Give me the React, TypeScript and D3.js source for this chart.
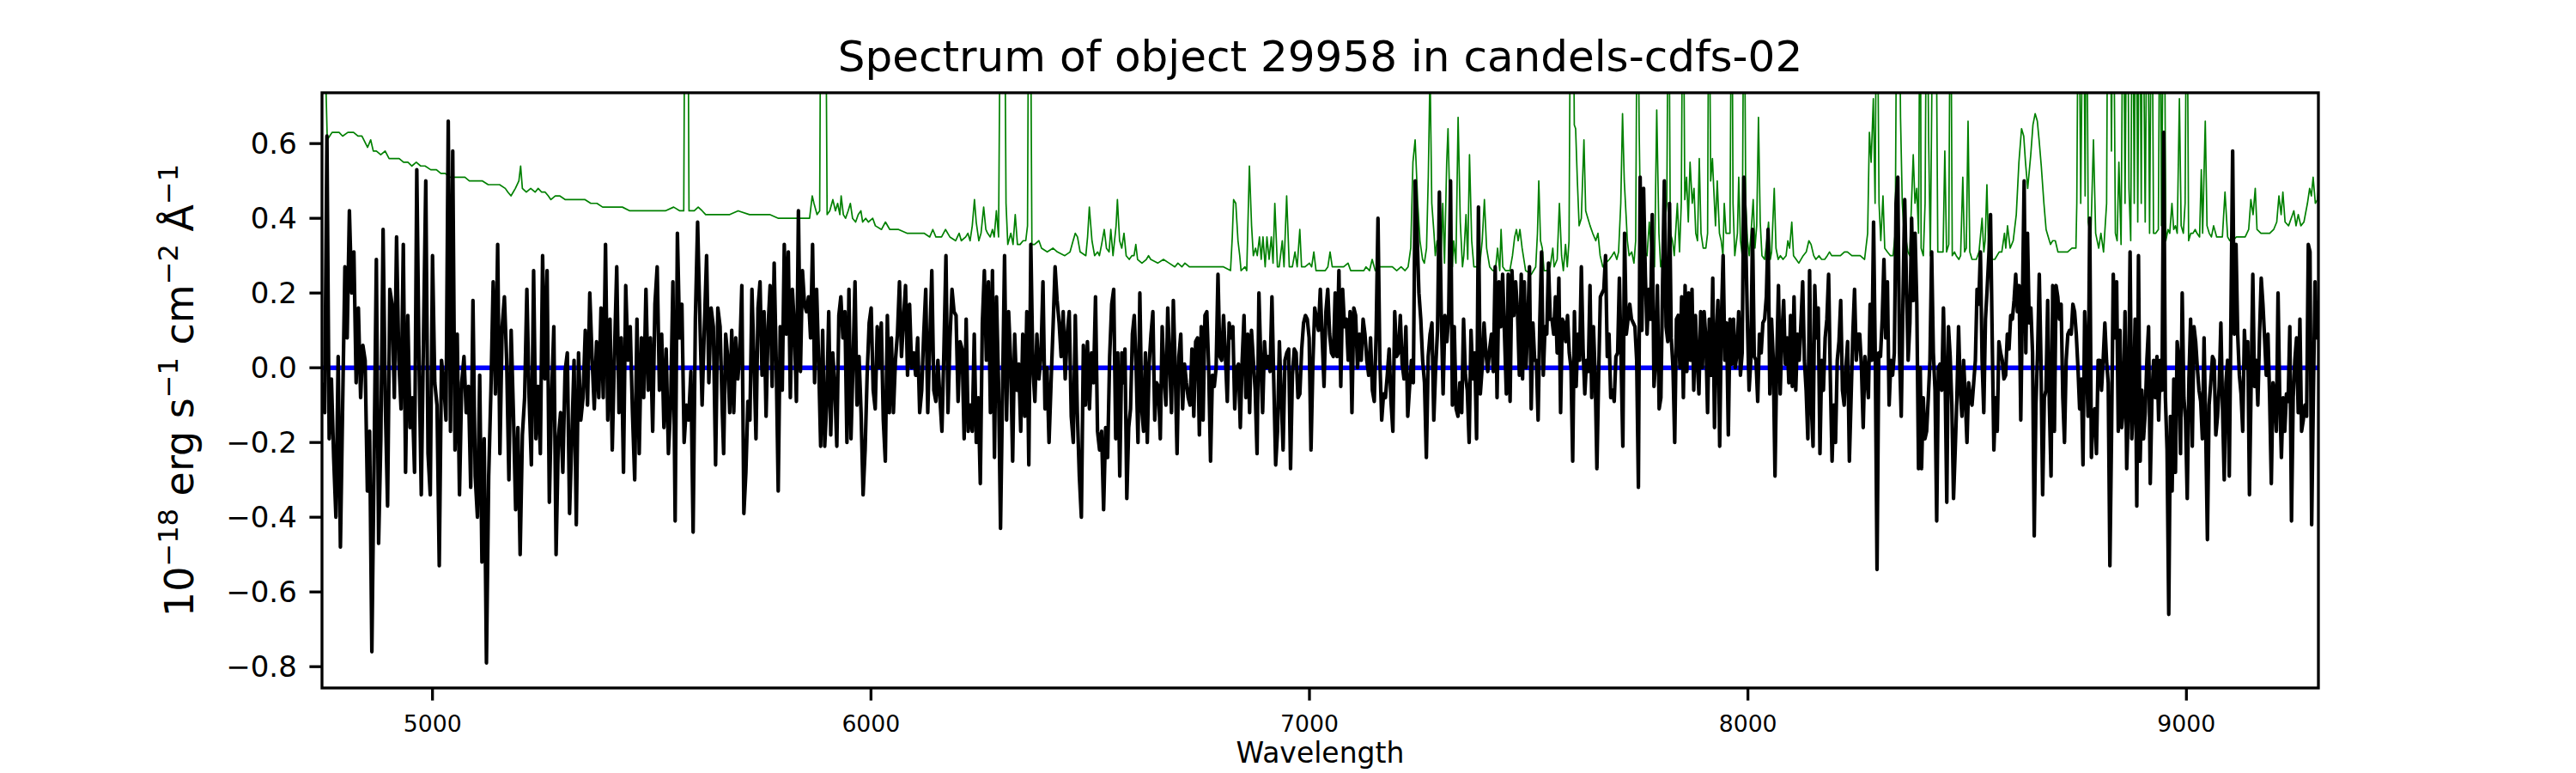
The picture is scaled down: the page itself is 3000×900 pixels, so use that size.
import React from 'react';
import * as d3 from 'd3';

// ---------- axis settings ----------
const xDomain: [number, number] = [4748, 9301];
const yDomain: [number, number] = [-0.857, 0.736];
const xTicks = [5000, 6000, 7000, 8000, 9000];
const yTicks = [-0.8, -0.6, -0.4, -0.2, 0.0, 0.2, 0.4, 0.6];
const titleText = 'Spectrum of object 29958 in candels-cdfs-02';
const xLabelText = 'Wavelength';

// ---------- object flux (black), five wavelength segments, evenly sampled ----------
const fluxRanges: [number, number][] = [
  [4749, 5661], [5664, 6572], [6575, 7483], [7486, 8393], [8396, 9301],
];
const fluxA = [-0.04,-0.12,0.62,-0.19,-0.03,-0.24,-0.40,0.03,-0.48,-0.10,0.27,0.08,0.42,0.20,0.31,-0.04,0.16,-0.08,0.06,0.02,-0.33,-0.17,-0.76,-0.24,0.29,-0.47,-0.19,0.37,-0.10,-0.37,0.21,0.17,-0.08,0.35,0.02,-0.11,0.33,-0.28,0.14,-0.16,-0.08,-0.28,0.53,0.02,-0.34,0.09,0.50,-0.23,-0.34,0.30,-0.04,-0.10,-0.53,0.02,-0.04,-0.14,0.66,-0.17,0.58,-0.22,0.09,-0.34,-0.04,0.03,-0.12,-0.05,-0.32,0.18,-0.29,-0.40,-0.02,-0.52,-0.19,-0.79,-0.29,-0.06,0.23,-0.07,0.33,-0.23,0.11,0.19,0.02,-0.30,0.10,-0.12,-0.38,-0.16,-0.50,-0.18,-0.08,0.21,-0.08,-0.26,0.26,-0.19,-0.05,-0.23,0.30,-0.03,0.26,-0.36,-0.08,0.11,-0.50,-0.19,-0.12,-0.28,-0.01,0.04,-0.39,-0.19,0.02,-0.42,0.04,-0.14,-0.08,0.10,-0.10,0.20,0.03,-0.11,0.07,-0.08,0.16,-0.08,0.33,-0.14,0.13,-0.22,0.04,0.27,-0.12,0.08,-0.28,0.22,0.02,0.11,-0.12,-0.30,0.13,-0.23,0.08,-0.08,0.21,-0.06,0.08,-0.17,0.17,0.27,-0.06,0.09,-0.16,0.05,-0.23,-0.10,0.23,-0.41,0.36,0.08,0.17,-0.20,-0.10,-0.14,-0.01,-0.44,0.13,0.39,0.13,-0.10,0.11,0.30,-0.04,0.16,0.11,-0.26,0.16,0.11,-0.12];
const fluxB = [-0.23,0.09,0.03,-0.12,0.10,-0.12,0.08,-0.03,0.04,0.22,-0.39,-0.28,-0.09,-0.14,0.21,0.02,-0.19,0.16,0.23,-0.02,0.15,-0.13,0.11,0.22,-0.05,0.28,0.02,-0.33,0.11,-0.06,0.33,0.09,0.31,-0.08,0.21,0.11,-0.09,0.42,-0.01,0.26,0.17,0.15,0.19,0.08,0.33,-0.04,0.21,0.02,-0.21,0.10,-0.21,-0.10,0.15,-0.18,0.04,-0.05,-0.21,0.14,0.19,0.08,0.15,-0.20,0.21,-0.19,0.01,0.23,-0.10,0.03,-0.12,-0.34,-0.22,-0.02,0.12,0.16,-0.06,-0.11,0.11,0.00,0.12,-0.14,-0.25,0.14,-0.12,0.08,-0.12,0.02,0.09,0.23,0.03,0.13,0.22,-0.02,0.17,0.00,0.04,-0.02,0.08,-0.12,-0.06,0.09,0.21,-0.12,0.07,0.26,-0.06,-0.09,0.02,-0.08,-0.17,0.05,0.30,-0.12,0.08,0.21,0.15,0.14,-0.09,0.07,0.05,-0.19,0.13,-0.17,-0.10,-0.17,0.09,-0.20,-0.08,-0.31,0.12,0.26,0.02,0.23,-0.12,0.26,-0.24,0.19,-0.04,-0.43,-0.06,0.30,-0.14,0.15,0.02,-0.25,0.09,-0.06,0.01,-0.17,0.09,-0.13,0.15,-0.26,0.33,0.00,-0.09,0.09,-0.03,0.03,0.23,-0.11,0.00,-0.20,-0.04,0.11,0.27,0.18,0.12,0.03,0.15,-0.03,0.09,0.15,-0.13,-0.20,0.14,-0.12,-0.29,-0.40,0.06,-0.10,0.07,-0.11,0.04,-0.04,0.19,-0.17,-0.22,-0.17,-0.38,-0.16,-0.24,0.03,0.17,0.21,-0.19,0.04,-0.29,0.04];
const fluxC = [-0.04,0.05,-0.35,-0.16,-0.11,0.09,0.14,0.00,-0.20,0.20,-0.11,-0.17,0.04,-0.20,0.01,0.09,0.15,-0.14,-0.04,-0.05,-0.19,0.11,-0.02,-0.10,0.16,0.02,-0.12,0.18,0.00,-0.23,0.03,0.09,-0.11,0.01,-0.04,-0.08,-0.10,0.05,-0.13,0.07,0.08,-0.18,0.11,-0.14,0.14,0.15,0.00,-0.25,-0.02,-0.05,0.00,0.25,0.03,0.02,0.14,0.03,-0.09,0.12,0.08,0.11,-0.11,0.00,0.01,-0.16,0.02,0.14,-0.08,0.09,-0.12,0.10,0.02,-0.06,-0.23,0.20,0.02,-0.12,0.07,0.00,0.03,-0.01,0.19,-0.04,-0.26,-0.17,0.07,-0.08,-0.22,0.02,0.04,0.05,-0.27,-0.02,0.05,0.04,-0.08,-0.07,0.05,0.12,0.14,0.13,0.08,-0.22,0.01,0.16,0.13,0.10,0.21,0.08,-0.05,0.15,0.21,0.09,0.04,0.03,0.20,0.03,0.26,-0.05,0.21,0.11,0.13,0.02,0.15,-0.12,0.16,0.14,0.00,0.09,0.02,0.13,0.09,0.02,-0.02,0.08,-0.06,-0.09,0.09,0.40,0.02,-0.14,-0.07,-0.08,-0.02,0.05,-0.09,-0.17,0.15,0.03,0.04,0.14,0.01,-0.03,0.11,-0.13,-0.05,0.02,-0.04,0.50,0.36,0.20,0.13,0.02,-0.04,-0.24,0.03,0.09,0.12,-0.14,0.00,0.10,0.47,0.15,-0.07,0.14,0.07,0.14,0.50,-0.10,0.11,-0.11,-0.13,-0.04,-0.12,0.13,-0.02,-0.06,-0.20,0.10,-0.03,0.04,-0.19,0.43,-0.07,0.00,0.12,0.04,-0.01,0.05,0.09,-0.01,0.27,-0.08,0.23,0.11,0.25,0.09,-0.07,0.25,-0.09,0.26,0.14,0.23,0.15,-0.02,0.25];
const fluxD = [-0.03,0.23,0.00,0.12,0.27,-0.11,0.12,0.02,0.02,-0.14,0.13,0.31,-0.02,0.11,0.09,0.28,0.13,0.13,0.09,0.19,0.04,0.24,-0.12,0.13,0.12,0.07,0.14,0.04,0.00,-0.25,0.15,-0.05,0.09,0.02,0.27,0.05,-0.07,0.02,-0.01,0.22,-0.08,0.11,-0.02,-0.27,-0.02,0.19,0.20,0.21,0.30,0.03,0.09,-0.08,-0.06,-0.09,0.03,0.04,0.24,0.02,-0.21,0.36,0.09,0.13,0.17,0.13,0.12,0.11,0.02,-0.32,0.51,0.10,0.48,0.25,0.09,0.21,0.13,0.41,-0.05,0.02,0.22,-0.11,-0.08,0.23,0.50,0.11,0.07,0.44,0.08,0.00,-0.20,0.13,0.14,0.00,0.19,-0.08,0.22,-0.01,0.20,0.02,0.21,-0.06,0.14,0.02,-0.07,0.15,0.00,0.15,0.08,-0.12,0.13,-0.02,0.24,-0.16,0.08,0.18,-0.21,0.13,0.30,0.02,0.12,-0.18,0.13,0.01,0.13,0.00,0.04,0.15,-0.02,0.04,0.51,0.36,0.13,-0.06,0.02,0.37,0.03,0.02,-0.09,0.09,0.04,0.12,0.13,0.19,0.37,-0.07,0.13,0.02,-0.29,0.02,0.22,-0.07,0.09,0.18,0.01,0.08,-0.04,0.14,-0.05,0.19,-0.06,0.09,0.02,0.12,0.23,0.02,-0.06,-0.19,0.26,-0.10,-0.21,0.22,0.08,0.16,-0.23,0.02,-0.06,0.08,0.13,0.25,-0.03,-0.25,-0.10,-0.20,0.02,0.07,0.18,-0.06,-0.10,0.00,0.07,-0.25,-0.08,0.09,0.21,0.02,0.09,0.09,0.00,-0.16,0.03,-0.02,-0.08,0.17,0.02,0.39,0.02,-0.54,0.04,0.03,0.13,0.29,0.08,0.23,-0.10,0.02,-0.02,0.04,0.44,0.51,0.04,-0.13,0.18,0.45,0.23,0.02,0.12,0.40,0.18,0.36,0.17,-0.27,0.00];
const fluxE = [-0.27,-0.08,-0.19,-0.17,-0.08,0.02,0.31,0.04,-0.06,-0.41,0.00,0.01,-0.06,0.16,-0.03,-0.36,0.11,0.03,-0.10,-0.35,-0.22,-0.08,0.11,-0.06,-0.13,0.02,-0.08,-0.20,-0.04,-0.08,-0.10,-0.04,0.02,0.21,0.17,0.31,0.02,-0.12,0.13,0.21,0.30,0.41,0.08,-0.22,-0.08,-0.17,0.07,0.04,0.02,-0.03,-0.02,0.09,0.05,0.14,0.13,0.18,0.25,0.15,0.22,-0.14,0.18,0.50,0.04,0.36,0.12,0.16,0.04,-0.45,-0.10,0.04,0.25,0.02,-0.34,-0.08,-0.06,0.18,-0.10,-0.29,0.22,-0.17,0.22,0.19,0.13,0.17,-0.08,-0.20,0.02,0.09,0.10,0.09,0.17,0.15,0.09,0.00,-0.11,-0.03,-0.26,0.15,0.03,-0.13,0.40,-0.24,-0.12,-0.11,-0.23,0.02,0.02,-0.06,0.02,0.12,0.02,-0.04,-0.53,-0.17,0.25,0.08,0.23,-0.17,0.10,-0.16,-0.11,0.15,-0.27,-0.10,0.31,-0.19,-0.09,0.13,-0.37,0.30,-0.25,-0.06,-0.19,-0.12,0.02,0.11,-0.31,-0.08,0.02,-0.08,0.03,-0.14,0.02,-0.06,0.63,-0.08,-0.22,-0.66,-0.13,-0.33,-0.03,-0.28,0.07,0.02,-0.23,0.20,-0.08,-0.14,-0.35,-0.03,0.13,-0.21,0.11,0.07,0.00,-0.06,-0.09,-0.19,0.08,-0.17,-0.46,-0.10,-0.04,0.03,0.02,-0.18,-0.13,-0.05,0.12,-0.11,-0.30,-0.04,0.02,-0.29,0.14,0.58,0.09,0.33,0.09,-0.02,-0.07,-0.17,0.10,0.00,0.07,-0.34,-0.04,0.25,-0.05,0.02,-0.10,0.09,0.24,0.17,0.08,-0.02,0.09,-0.08,-0.31,-0.04,-0.07,-0.17,0.20,-0.08,-0.24,-0.08,-0.17,-0.07,-0.09,0.11,-0.41,-0.08,0.02,0.08,-0.12,0.13,-0.17,-0.14,-0.10,-0.13,0.33,0.31,-0.42,-0.08,0.23,0.08,0.18];
const fluxSegments = [fluxA, fluxB, fluxC, fluxD, fluxE];

// ---------- sky / noise spectrum (green): [wavelength, value]; lines above the frame are clipped ----------
const skyA: [number, number][] = [[4749,0.95],[4756,0.80],[4760,0.61],[4771,0.63],[4787,0.63],[4795,0.62],[4807,0.63],[4820,0.63],[4830,0.62],[4839,0.62],[4852,0.59],[4859,0.61],[4865,0.58],[4872,0.58],[4882,0.57],[4892,0.58],[4901,0.56],[4911,0.56],[4924,0.56],[4934,0.55],[4944,0.55],[4953,0.54],[4963,0.55],[4973,0.54],[4983,0.54],[4996,0.53],[5009,0.53],[5019,0.52],[5029,0.52],[5039,0.51],[5048,0.51],[5061,0.51],[5074,0.51],[5084,0.50],[5094,0.50],[5104,0.50],[5114,0.50],[5127,0.49],[5140,0.49],[5153,0.49],[5166,0.48],[5172,0.47],[5179,0.46],[5184,0.47],[5189,0.48],[5197,0.50],[5201,0.54],[5205,0.48],[5214,0.47],[5224,0.48],[5234,0.47],[5241,0.48],[5249,0.47],[5257,0.47],[5264,0.46],[5270,0.45],[5280,0.46],[5290,0.46],[5303,0.45],[5316,0.45],[5332,0.45],[5348,0.45],[5361,0.44],[5375,0.44],[5388,0.43],[5401,0.43],[5417,0.43],[5433,0.43],[5450,0.42],[5466,0.42],[5482,0.42],[5499,0.42],[5515,0.42],[5531,0.42],[5550,0.43],[5564,0.42],[5573,0.42],[5576,1.2],[5582,1.2],[5585,0.42],[5597,0.42],[5606,0.43],[5615,0.42],[5623,0.41],[5636,0.41],[5649,0.41],[5660,0.41]];
const skyB: [number, number][] = [[5678,0.41],[5697,0.42],[5723,0.41],[5749,0.41],[5769,0.41],[5789,0.40],[5815,0.40],[5834,0.40],[5854,0.40],[5860,0.40],[5866,0.46],[5870,0.44],[5877,0.41],[5883,0.42],[5886,1.2],[5892,1.2],[5896,1.2],[5900,0.41],[5906,0.42],[5913,0.45],[5919,0.42],[5924,0.44],[5929,0.41],[5932,0.46],[5937,0.41],[5942,0.40],[5948,0.42],[5953,0.44],[5958,0.40],[5965,0.39],[5971,0.41],[5977,0.42],[5981,0.39],[5988,0.40],[5994,0.39],[6004,0.40],[6010,0.38],[6024,0.37],[6033,0.39],[6043,0.37],[6063,0.37],[6082,0.36],[6102,0.36],[6121,0.36],[6134,0.35],[6141,0.37],[6148,0.35],[6161,0.35],[6170,0.37],[6180,0.35],[6193,0.34],[6201,0.36],[6206,0.34],[6216,0.35],[6221,0.36],[6226,0.34],[6231,0.38],[6236,0.45],[6240,0.39],[6246,0.34],[6251,0.36],[6257,0.43],[6262,0.37],[6266,0.36],[6272,0.35],[6277,0.37],[6281,0.35],[6286,0.42],[6291,0.35],[6296,1.2],[6301,1.2],[6304,1.2],[6308,0.44],[6312,0.33],[6319,0.36],[6324,0.33],[6329,0.41],[6334,0.33],[6340,0.33],[6347,0.34],[6353,0.34],[6357,0.38],[6360,1.2],[6363,1.2],[6367,0.33],[6373,0.33],[6383,0.34],[6389,0.32],[6402,0.31],[6415,0.32],[6425,0.31],[6442,0.30],[6454,0.31],[6461,0.34],[6466,0.36],[6471,0.35],[6477,0.31],[6490,0.30],[6494,0.35],[6498,0.43],[6504,0.34],[6510,0.30],[6517,0.31],[6521,0.30],[6526,0.33],[6532,0.37],[6537,0.32],[6543,0.31],[6547,0.37],[6552,0.30],[6559,0.38],[6562,0.45],[6567,0.34]];
const skyC: [number, number][] = [[6572,0.32],[6577,0.36],[6582,0.30],[6589,0.29],[6595,0.30],[6600,0.30],[6604,0.33],[6608,0.29],[6618,0.28],[6628,0.29],[6633,0.30],[6638,0.29],[6654,0.28],[6667,0.29],[6680,0.28],[6693,0.27],[6700,0.28],[6709,0.27],[6716,0.28],[6726,0.27],[6739,0.27],[6752,0.27],[6765,0.27],[6784,0.27],[6804,0.27],[6820,0.26],[6824,0.35],[6827,0.45],[6832,0.44],[6837,0.34],[6841,0.30],[6844,0.26],[6853,0.27],[6857,0.26],[6863,0.54],[6868,0.38],[6872,0.30],[6877,0.32],[6881,0.30],[6886,0.35],[6890,0.29],[6894,0.35],[6899,0.27],[6903,0.35],[6908,0.29],[6913,0.35],[6917,0.28],[6921,0.44],[6927,0.27],[6931,0.27],[6938,0.34],[6942,0.27],[6948,0.46],[6954,0.27],[6961,0.27],[6967,0.31],[6972,0.27],[6978,0.37],[6982,0.27],[6990,0.27],[7000,0.28],[7005,0.27],[7010,0.31],[7015,0.26],[7026,0.26],[7036,0.26],[7042,0.27],[7047,0.31],[7052,0.27],[7059,0.27],[7065,0.27],[7078,0.27],[7088,0.28],[7094,0.26],[7111,0.26],[7124,0.26],[7129,0.27],[7137,0.26],[7143,0.29],[7150,0.26],[7160,0.27],[7169,0.27],[7179,0.27],[7189,0.27],[7199,0.26],[7209,0.27],[7218,0.26],[7225,0.27],[7231,0.32],[7236,0.55],[7241,0.61],[7247,0.44],[7252,0.34],[7258,0.29],[7262,0.28],[7267,0.32],[7271,0.51],[7275,0.80],[7279,0.44],[7284,0.36],[7287,0.30],[7291,0.34],[7295,0.32],[7300,0.30],[7304,0.44],[7308,0.28],[7313,0.55],[7316,0.64],[7321,0.39],[7326,0.27],[7329,0.34],[7334,0.28],[7339,0.67],[7344,0.39],[7349,0.27],[7352,0.30],[7357,0.41],[7361,0.29],[7365,0.57],[7370,0.34],[7375,0.27],[7382,0.27],[7388,0.27],[7394,0.34],[7399,0.45],[7404,0.32],[7411,0.27],[7418,0.26],[7424,0.26],[7429,0.32],[7434,0.26],[7437,0.37],[7441,0.27],[7447,0.26],[7457,0.26],[7463,0.30],[7468,0.35],[7472,0.37],[7476,0.34],[7480,0.37],[7485,0.32]];
const skyD: [number, number][] = [[7493,0.26],[7506,0.25],[7516,0.27],[7520,0.36],[7523,0.50],[7527,0.34],[7531,0.32],[7535,0.26],[7542,0.26],[7549,0.27],[7555,0.32],[7558,0.27],[7565,0.29],[7570,0.44],[7575,0.30],[7579,0.26],[7584,0.33],[7588,0.27],[7592,0.34],[7596,1.2],[7601,1.2],[7604,0.65],[7607,0.64],[7611,0.50],[7615,0.38],[7620,0.40],[7626,0.61],[7630,0.42],[7635,0.40],[7640,0.38],[7646,0.36],[7653,0.34],[7658,0.36],[7663,0.30],[7669,0.27],[7676,0.28],[7684,0.29],[7690,0.30],[7695,0.31],[7701,0.29],[7705,0.31],[7710,0.44],[7714,0.68],[7718,0.50],[7722,0.41],[7725,0.34],[7729,0.30],[7735,0.31],[7740,0.28],[7744,0.34],[7748,1.2],[7752,0.63],[7755,0.39],[7759,0.30],[7765,0.31],[7770,0.30],[7775,0.39],[7780,0.30],[7787,0.27],[7792,0.69],[7797,0.36],[7801,0.27],[7806,0.30],[7811,0.39],[7815,0.44],[7819,1.2],[7823,0.36],[7828,0.34],[7832,0.30],[7839,0.44],[7844,0.31],[7848,0.44],[7852,1.2],[7856,0.45],[7860,0.51],[7864,0.39],[7868,0.55],[7873,0.44],[7877,0.48],[7881,0.36],[7885,0.34],[7889,0.56],[7893,0.36],[7898,0.32],[7904,0.32],[7908,0.36],[7911,1.2],[7915,0.50],[7919,0.56],[7922,0.48],[7926,0.38],[7930,0.50],[7935,0.36],[7939,0.34],[7943,0.30],[7946,0.44],[7950,0.36],[7954,0.36],[7959,0.36],[7963,1.2],[7966,0.44],[7970,0.30],[7976,0.36],[7979,0.51],[7983,0.34],[7987,0.30],[7991,1.2],[7995,0.44],[7999,0.34],[8003,0.30],[8007,0.36],[8012,0.45],[8016,0.32],[8020,0.38],[8024,0.67],[8028,0.39],[8032,0.30],[8038,0.29],[8043,0.34],[8047,0.39],[8051,0.29],[8054,0.31],[8060,0.48],[8064,0.32],[8069,0.29],[8074,0.30],[8080,0.29],[8087,0.30],[8091,0.34],[8095,0.32],[8100,0.39],[8104,0.30],[8110,0.29],[8116,0.28],[8126,0.30],[8133,0.31],[8139,0.34],[8144,0.33],[8150,0.30],[8155,0.29],[8162,0.30],[8168,0.29],[8175,0.29],[8181,0.30],[8186,0.31],[8191,0.30],[8198,0.30],[8204,0.30],[8211,0.30],[8220,0.31],[8227,0.31],[8237,0.30],[8247,0.30],[8256,0.30],[8266,0.29],[8273,0.36],[8277,0.63],[8281,0.55],[8286,0.72],[8290,0.44],[8294,1.2],[8299,0.44],[8303,0.34],[8308,0.46],[8312,0.32],[8318,0.31],[8325,0.30],[8331,0.30],[8336,0.36],[8340,1.2],[8344,1.2],[8348,0.67],[8352,0.44],[8356,0.36],[8361,0.34],[8365,0.31],[8369,0.30],[8373,0.44],[8377,0.57],[8381,0.44],[8385,0.48],[8389,0.36],[8393,1.2]];
const skyE: [number, number][] = [[8395,0.32],[8400,0.30],[8404,0.44],[8408,1.2],[8412,0.62],[8416,0.30],[8423,1.2],[8428,1.2],[8433,0.31],[8440,0.31],[8445,0.31],[8449,0.58],[8453,0.31],[8458,0.33],[8462,1.2],[8466,0.30],[8471,0.31],[8475,0.30],[8481,0.29],[8485,0.30],[8490,0.51],[8494,0.31],[8498,0.32],[8502,0.66],[8506,0.31],[8511,0.29],[8521,0.29],[8527,0.31],[8534,0.40],[8538,0.31],[8541,0.34],[8545,0.49],[8549,0.30],[8553,0.29],[8563,0.29],[8573,0.31],[8579,0.31],[8585,0.36],[8588,0.32],[8592,0.38],[8598,0.32],[8605,0.34],[8612,0.41],[8618,0.55],[8624,0.64],[8629,0.62],[8633,0.55],[8638,0.48],[8645,0.57],[8650,0.65],[8655,0.68],[8660,0.66],[8664,0.61],[8669,0.54],[8675,0.44],[8680,0.37],[8685,0.35],[8690,0.33],[8695,0.34],[8701,0.34],[8707,0.31],[8716,0.31],[8723,0.31],[8729,0.31],[8739,0.32],[8748,0.32],[8750,0.44],[8754,1.2],[8759,0.44],[8765,1.2],[8769,0.46],[8772,1.2],[8776,0.39],[8782,0.35],[8788,0.61],[8793,0.36],[8800,0.32],[8805,0.36],[8811,0.31],[8818,0.44],[8821,1.2],[8826,1.2],[8829,0.58],[8833,1.2],[8838,0.36],[8842,0.34],[8846,0.55],[8851,0.33],[8856,1.2],[8860,0.44],[8865,1.2],[8869,0.48],[8873,0.34],[8877,1.2],[8881,0.44],[8885,1.2],[8889,0.39],[8893,1.2],[8897,0.44],[8900,1.2],[8906,0.39],[8911,1.2],[8916,0.36],[8921,1.2],[8925,0.36],[8930,0.36],[8936,0.37],[8940,1.2],[8943,0.38],[8949,1.2],[8953,0.34],[8958,0.37],[8962,0.36],[8967,0.44],[8971,0.37],[8975,0.38],[8979,0.36],[8984,0.72],[8988,0.38],[8993,0.36],[8997,0.44],[9001,1.2],[9005,0.34],[9010,0.36],[9015,0.36],[9020,0.37],[9024,0.36],[9030,0.35],[9034,0.53],[9037,0.36],[9043,0.66],[9047,0.38],[9052,0.36],[9057,0.35],[9062,0.38],[9069,0.35],[9075,0.35],[9082,0.35],[9088,0.47],[9094,0.35],[9099,0.34],[9105,0.34],[9114,0.35],[9124,0.35],[9134,0.35],[9142,0.37],[9147,0.45],[9152,0.41],[9157,0.48],[9161,0.37],[9170,0.36],[9180,0.36],[9190,0.36],[9199,0.37],[9206,0.39],[9211,0.46],[9216,0.41],[9220,0.47],[9225,0.39],[9233,0.38],[9239,0.40],[9245,0.42],[9250,0.38],[9255,0.41],[9261,0.38],[9268,0.39],[9276,0.44],[9281,0.48],[9285,0.46],[9289,0.51],[9294,0.44],[9299,0.45],[9301,0.48]];
const skySegments = [skyA, skyB, skyC, skyD, skyE];

// ---------- layout ----------
const W = 3000;
const H = 900;
const M = { left: 375, right: 300, top: 108, bottom: 99 };
const FONT = "'DejaVu Sans', 'Liberation Sans', sans-serif";

const fmtY = (v: number) => {
  const s = Math.abs(v).toFixed(1);
  return v < -1e-9 ? '\u2212' + s : s;
};

export default function App() {
  const x = d3.scaleLinear().domain(xDomain).range([M.left, W - M.right]);
  const y = d3.scaleLinear().domain(yDomain).range([H - M.bottom, M.top]);

  const fluxPts: [number, number][] = [];
  fluxSegments.forEach((vals, si) => {
    const [a, b] = fluxRanges[si];
    const n = vals.length;
    vals.forEach((v, i) => fluxPts.push([a + ((b - a) * i) / (n - 1), v]));
  });
  const skyPts: [number, number][] = ([] as [number, number][]).concat(...skySegments);
  const zeroPts: [number, number][] = [[xDomain[0], 0], [xDomain[1], 0]];

  const line = d3.line<[number, number]>().x((d) => x(d[0])).y((d) => y(d[1]));

  const pw = W - M.left - M.right;
  const ph = H - M.top - M.bottom;
  const tickLen = 14.6;
  const axisW = 3.3;

  return (
    <svg
      width={W}
      height={H}
      viewBox={`0 0 ${W} ${H}`}
      style={{ position: 'absolute', left: 0, top: 0, display: 'block', background: '#fff' }}
      fontFamily={FONT}
    >
      <rect x={0} y={0} width={W} height={H} fill="#fff" />
      <defs>
        <clipPath id="plot-clip">
          <rect x={M.left} y={M.top} width={pw} height={ph} />
        </clipPath>
      </defs>
      <g clipPath="url(#plot-clip)">
        <path d={line(skyPts) || ''} fill="none" stroke="#008000" strokeWidth={1.7} strokeLinejoin="round" />
        <path d={line(zeroPts) || ''} fill="none" stroke="#0000ff" strokeWidth={5.5} />
        <path d={line(fluxPts) || ''} fill="none" stroke="#000" strokeWidth={4.2} strokeLinejoin="round" />
      </g>

      {/* frame */}
      <rect x={M.left} y={M.top} width={pw} height={ph} fill="none" stroke="#000" strokeWidth={axisW} />

      {/* y ticks */}
      {yTicks.map((t) => (
        <g key={'y' + t}>
          <line x1={M.left - tickLen} x2={M.left} y1={y(t)} y2={y(t)} stroke="#000" strokeWidth={axisW} />
          <text x={M.left - tickLen - 14.6} y={y(t)} dy="0.36em" textAnchor="end" fontSize={34} fill="#000">
            {fmtY(t)}
          </text>
        </g>
      ))}

      {/* x ticks */}
      {xTicks.map((t) => (
        <g key={'x' + t}>
          <line x1={x(t)} x2={x(t)} y1={H - M.bottom} y2={H - M.bottom + tickLen} stroke="#000" strokeWidth={axisW} />
          <text x={x(t)} y={852} textAnchor="middle" fontSize={26.7} fill="#000">
            {t}
          </text>
        </g>
      ))}

      {/* x label */}
      <text x={(M.left + W - M.right) / 2} y={888} textAnchor="middle" fontSize={33} fill="#000">
        {xLabelText}
      </text>

      {/* y label */}
      <text
        transform={`translate(225, ${(M.top + H - M.bottom) / 2}) rotate(-90)`}
        textAnchor="middle"
        fontSize={46}
        fill="#000"
      >
        <tspan>10</tspan>
        <tspan dy={-18} fontSize={32}>{'\u221218'}</tspan>
        <tspan dy={18}>{' erg s'}</tspan>
        <tspan dy={-18} fontSize={32}>{'\u22121'}</tspan>
        <tspan dy={18}>{' cm'}</tspan>
        <tspan dy={-18} fontSize={32}>{'\u22122'}</tspan>
        <tspan dy={18}>{' \u00C5'}</tspan>
        <tspan dy={-18} fontSize={32}>{'\u22121'}</tspan>
      </text>

      {/* title */}
      <text x={(M.left + W - M.right) / 2} y={83} textAnchor="middle" fontSize={50} fill="#000">
        {titleText}
      </text>
    </svg>
  );
}
